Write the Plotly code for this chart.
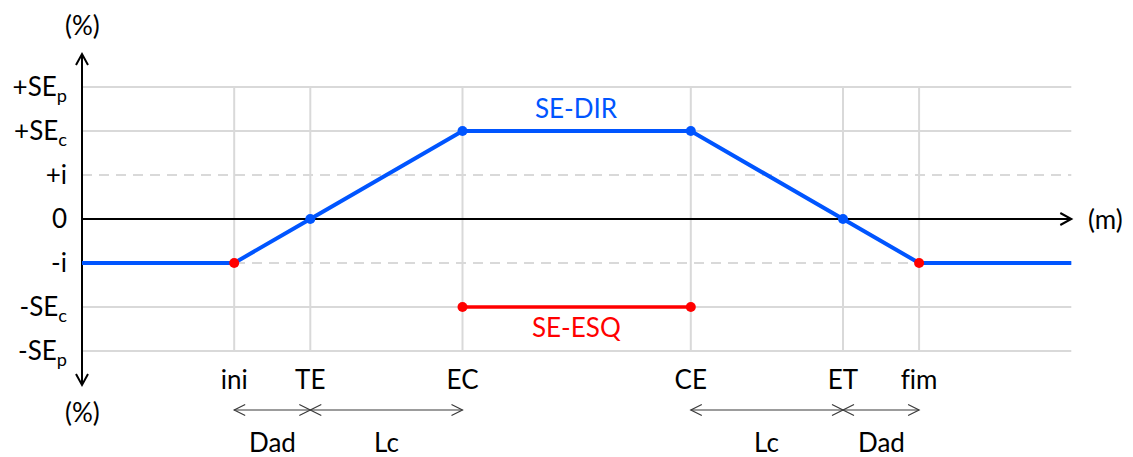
import plotly.graph_objects as go

# ---------------- data ----------------
station_names = ["ini", "TE", "EC", "CE", "ET", "fim"]
station_pos = [2, 3, 5, 8, 10, 11]

level_labels = ["+SE<sub>p</sub>", "+SE<sub>c</sub>", "+i", "0", "-i", "-SE<sub>c</sub>", "-SE<sub>p</sub>"]
level_values = [3, 2, 1, 0, -1, -2, -3]
dashed_levels = [1, -1]

x_start, x_end = 0, 13

se_dir_x = [0, 2, 3, 5, 8, 10, 11, 13]
se_dir_y = [-1, -1, 0, 2, 2, 0, -1, -1]
se_esq_x = [5, 8]
se_esq_y = [-2, -2]

span_from = ["ini", "TE", "CE", "ET"]
span_to = ["TE", "EC", "ET", "fim"]
span_labels = ["Dad", "Lc", "Lc", "Dad"]

# ---------------- style ----------------
OFF = 8  # page body margin
W, H = 1133 - OFF, 457 - OFF
X0_PX, PX_PER_X = 82 - OFF, 76.1
Y0_PX, PX_PER_Y = 219 - OFF, 44
BLUE = "#0055FF"
RED = "#FF0000"
GRID = "#D9D9D9"
FONT = "Lato, Carlito, Calibri, sans-serif"
FS = 26


def ydata(px_ref):
    """reference-image pixel row -> data y"""
    return (Y0_PX - (px_ref - OFF)) / PX_PER_Y


def xdata(px_ref):
    return ((px_ref - OFF) - X0_PX) / PX_PER_X


def no_lig(s):
    # avoid the automatic "fi" ligature so the letters render separately
    return s.replace("fi", "f\u200ci")


pos = dict(zip(station_names, station_pos))
ymax = max(level_values)
ymin = min(level_values)

fig = go.Figure()

# SE-DIR line
fig.add_trace(go.Scatter(x=se_dir_x, y=se_dir_y, mode="lines",
                         line=dict(color=BLUE, width=4), hoverinfo="skip", showlegend=False))
# SE-DIR markers (transition start/end in red)
inner_x = se_dir_x[1:-1]
inner_y = se_dir_y[1:-1]
marker_colors = [RED if i in (0, len(inner_x) - 1) else BLUE for i in range(len(inner_x))]
fig.add_trace(go.Scatter(x=inner_x, y=inner_y, mode="markers",
                         marker=dict(color=marker_colors, size=10, line=dict(width=0)),
                         hoverinfo="skip", showlegend=False))
# SE-ESQ
fig.add_trace(go.Scatter(x=se_esq_x, y=se_esq_y, mode="lines+markers",
                         line=dict(color=RED, width=3.5),
                         marker=dict(color=RED, size=10), hoverinfo="skip", showlegend=False))

shapes = []
# horizontal grid
for v in level_values:
    if v == 0:
        continue
    shapes.append(dict(type="line", xref="x", yref="y", x0=x_start, x1=x_end, y0=v, y1=v,
                       line=dict(color=GRID, width=2, dash="10px,7px" if v in dashed_levels else "solid"),
                       layer="below"))
# vertical grid
for xp in station_pos:
    shapes.append(dict(type="line", xref="x", yref="y", x0=xp, x1=xp, y0=ymin, y1=ymax,
                       line=dict(color=GRID, width=2), layer="below"))

# axes
ytop = ydata(54)
ybot = ydata(385)
shapes.append(dict(type="line", xref="x", yref="y", x0=x_start, x1=x_end, y0=0, y1=0,
                   line=dict(color="black", width=2), layer="below"))
shapes.append(dict(type="line", xref="x", yref="y", x0=x_start, x1=x_start, y0=ybot, y1=ytop,
                   line=dict(color="black", width=2), layer="below"))


def chevron(xa, ya, direction, size_l, size_w, color, width):
    if direction == "right":
        p = f"M {-size_l} {size_w} L 0 0 L {-size_l} {-size_w}"
    elif direction == "left":
        p = f"M {size_l} {size_w} L 0 0 L {size_l} {-size_w}"
    elif direction == "up":
        p = f"M {-size_w} {-size_l} L 0 0 L {size_w} {-size_l}"
    else:
        p = f"M {-size_w} {size_l} L 0 0 L {size_w} {size_l}"
    return dict(type="path", xref="x", yref="y", xsizemode="pixel", ysizemode="pixel",
                xanchor=xa, yanchor=ya, path=p, line=dict(color=color, width=width))


shapes.append(chevron(x_end, 0, "right", 11, 6, "black", 2))
shapes.append(chevron(x_start, ytop, "up", 11, 6, "black", 2))
shapes.append(chevron(x_start, ybot, "down", 11, 6, "black", 2))

# dimension arrows
y_dim = ydata(410)
DIM = "#3A3A3A"
for a, b in zip(span_from, span_to):
    xa, xb = pos[a], pos[b]
    shapes.append(dict(type="line", xref="x", yref="y", x0=xa, x1=xb, y0=y_dim, y1=y_dim,
                       line=dict(color=DIM, width=1.2)))
    shapes.append(chevron(xa, y_dim, "left", 11, 5.5, DIM, 1.2))
    shapes.append(chevron(xb, y_dim, "right", 11, 5.5, DIM, 1.2))

annotations = []
y_lab = ydata(442)
for a, b, t in zip(span_from, span_to, span_labels):
    annotations.append(dict(x=(pos[a] + pos[b]) / 2, y=y_lab, text=t, showarrow=False,
                            xref="x", yref="y", font=dict(size=FS, color="black")))
annotations.append(dict(x=(pos["EC"] + pos["CE"]) / 2, y=ydata(108), text="SE-DIR", showarrow=False,
                        font=dict(size=FS, color=BLUE)))
annotations.append(dict(x=(pos["EC"] + pos["CE"]) / 2, y=ydata(327), text="SE-ESQ", showarrow=False,
                        font=dict(size=FS, color=RED)))
annotations.append(dict(x=x_start, y=ydata(25), text="(%)", showarrow=False, font=dict(size=FS)))
annotations.append(dict(x=x_start, y=ydata(412), text="(%)", showarrow=False, font=dict(size=FS)))
annotations.append(dict(x=xdata(1105), y=0, text="(m)", showarrow=False, font=dict(size=FS)))

fig.update_layout(
    width=W, height=H,
    margin=dict(l=0, r=0, t=0, b=0, autoexpand=False),
    paper_bgcolor="white", plot_bgcolor="white",
    font=dict(family=FONT, size=FS, color="black"),
    shapes=shapes, annotations=annotations,
    showlegend=False,
    xaxis=dict(range=[-X0_PX / PX_PER_X, (W - X0_PX) / PX_PER_X],
               showgrid=False, zeroline=False, showline=False, automargin=False,
               tickmode="array", tickvals=station_pos, ticktext=[no_lig(s) for s in station_names],
               ticks="", anchor="free", position=(H - (351 - OFF)) / H,
               ticklabelstandoff=11, tickfont=dict(size=FS)),
    yaxis=dict(range=[(Y0_PX - H) / PX_PER_Y, Y0_PX / PX_PER_Y],
               showgrid=False, zeroline=False, showline=False, automargin=False,
               tickmode="array", tickvals=level_values, ticktext=level_labels,
               ticks="", anchor="free", position=X0_PX / W,
               ticklabelstandoff=15, tickfont=dict(size=FS)),
)

fig.write_html("out.html")
